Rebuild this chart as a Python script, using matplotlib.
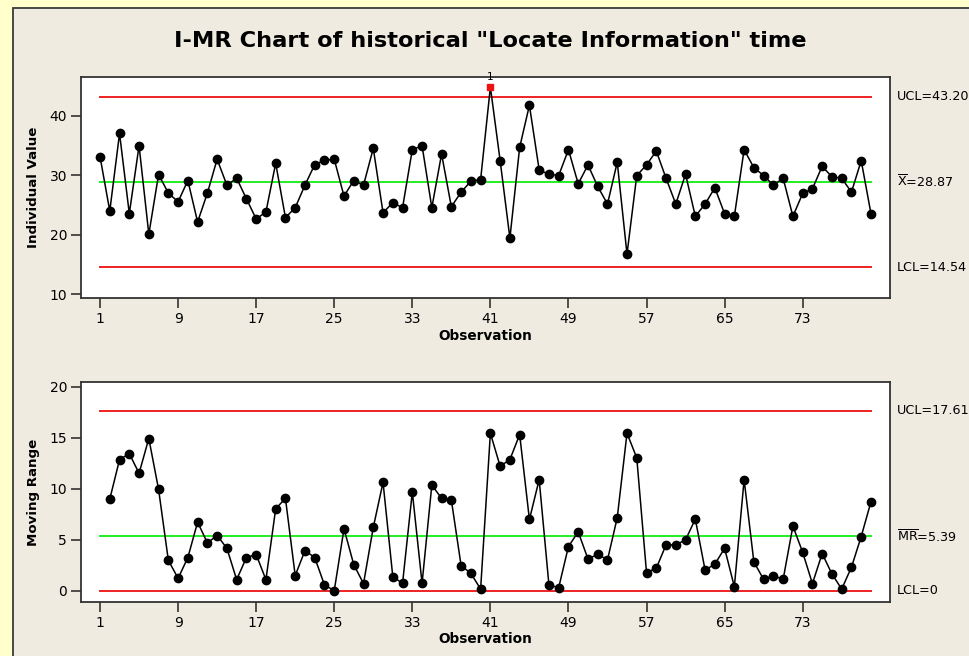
import matplotlib
matplotlib.use("Agg")
import matplotlib.pyplot as plt
from matplotlib.patches import Rectangle

# ---- data ----
individual_values = [
    33.12, 23.99, 37.02, 23.55, 34.96, 20.09, 30.12, 27.00, 25.55, 29.11,
    22.15, 27.00, 32.68, 28.33, 29.50, 26.05, 22.65, 23.82, 32.01, 22.88,
    24.55, 28.33, 31.79, 32.51, 32.68, 26.50, 29.11, 28.33, 34.51, 23.71,
    25.38, 24.55, 34.29, 34.96, 24.55, 33.57, 24.71, 27.16, 29.00, 29.28,
    44.81, 32.45, 19.43, 34.68, 41.75, 30.89, 30.17, 29.95, 34.29, 28.56,
    31.73, 28.11, 25.16, 32.18, 16.75, 29.95, 31.73, 34.07, 29.50, 25.16,
    30.17, 23.10, 25.16, 27.89, 23.55, 23.10, 34.29, 31.28, 29.95, 28.33,
    29.50, 23.10, 26.94, 27.72, 31.51, 29.73, 29.50, 27.16, 32.45, 23.55,
]
moving_ranges = [
    8.98, 12.85, 13.44, 11.51, 14.92, 9.93, 2.98, 1.21, 3.25, 6.72,
    4.69, 5.41, 4.16, 1.08, 3.25, 3.54, 1.08, 8.03, 9.05, 1.48,
    3.93, 3.25, 0.56, 0.00, 6.07, 2.56, 0.69, 6.20, 10.62, 1.38,
    0.72, 9.67, 0.72, 10.36, 9.05, 8.89, 2.46, 1.70, 0.16, 15.44,
    12.20, 12.85, 15.31, 6.98, 10.89, 0.56, 0.30, 4.33, 5.77, 3.11,
    3.57, 3.02, 7.15, 15.44, 13.02, 1.77, 2.20, 4.49, 4.49, 4.98,
    7.02, 2.03, 2.59, 4.16, 0.39, 10.89, 2.82, 1.11, 1.48, 1.11,
    6.33, 3.77, 0.69, 3.64, 1.64, 0.16, 2.30, 5.31, 8.72,
]
i_ucl, i_center, i_lcl = 43.20, 28.87, 14.54
mr_ucl, mr_center, mr_lcl = 17.61, 5.39, 0.0
flagged_obs = [41]
x_ticks = [1, 9, 17, 25, 33, 41, 49, 57, 65, 73]
i_yticks = [10, 20, 30, 40]
mr_yticks = [0, 5, 10, 15, 20]
title = 'I-MR Chart of historical "Locate Information" time'

plt.rcParams['font.family'] = ['DejaVu Sans']
plt.rcParams['mathtext.fontset'] = 'dejavusans'

W, H = 970, 656
fig = plt.figure(figsize=(W / 100, H / 100), dpi=100)
fig.patch.set_facecolor('#FFFFCC')

# beige panel
panel = Rectangle((13 / W, -0.01), 1.0, 1 - 8 / H + 0.01, transform=fig.transFigure,
                  facecolor='#EFEBE1', edgecolor='#3a3a3a', linewidth=1.3, zorder=-10)
fig.patches.append(panel)

def fy(y):
    return 1 - y / H

ax1 = fig.add_axes([81 / W, fy(298.3), (890 - 81) / W, (298.3 - 76.7) / H])
ax2 = fig.add_axes([81 / W, fy(601.7), (890 - 81) / W, (601.7 - 382.3) / H])

obs = list(range(1, len(individual_values) + 1))
mr_obs = list(range(2, len(individual_values) + 1))

RED = '#EE2222'
GREEN = '#22EE22'

def style(ax):
    ax.set_facecolor('white')
    for s in ax.spines.values():
        s.set_color('#333333')
        s.set_linewidth(1.3)
    ax.tick_params(direction='out', length=7, width=1.2, color='#333333',
                   labelsize=10, pad=3)
    ax.set_xticks(x_ticks)
    ax.set_xlim(-0.95, 81.95)
    ax.set_xlabel('Observation', fontsize=9.8, fontweight='bold', labelpad=2)

# Individual chart
style(ax1)
ax1.plot([1, 80], [i_ucl, i_ucl], color=RED, lw=1.4, zorder=1)
ax1.plot([1, 80], [i_lcl, i_lcl], color=RED, lw=1.4, zorder=1)
ax1.plot([1, 80], [i_center, i_center], color=GREEN, lw=1.4, zorder=1)
ax1.plot(obs, individual_values, color='black', lw=1.1, zorder=2)
normal = [i for i in range(len(obs)) if obs[i] not in flagged_obs]
ax1.plot([obs[i] for i in normal], [individual_values[i] for i in normal], 'o',
         color='black', ms=6, zorder=3)
for f in flagged_obs:
    ax1.plot([f], [individual_values[f - 1]], 's', color='#EE1111', ms=5, zorder=4)
    ax1.annotate('1', (f, individual_values[f - 1]), xytext=(0, 4),
                 textcoords='offset points', ha='center', va='bottom', fontsize=7.5,
                 annotation_clip=False)
ax1.set_ylim(9.33, 46.55)
ax1.set_yticks(i_yticks)
ax1.set_ylabel('Individual Value', fontsize=9.6, fontweight='bold', labelpad=7)

# Moving range chart
style(ax2)
ax2.plot([1, 80], [mr_ucl, mr_ucl], color=RED, lw=1.4, zorder=1)
ax2.plot([1, 80], [mr_lcl, mr_lcl], color=RED, lw=1.4, zorder=1)
ax2.plot([1, 80], [mr_center, mr_center], color=GREEN, lw=1.4, zorder=1)
ax2.plot(mr_obs, moving_ranges, color='black', lw=1.1, zorder=2)
ax2.plot(mr_obs, moving_ranges, 'o', color='black', ms=6, zorder=3)
ax2.set_ylim(-1.08, 20.43)
ax2.set_yticks(mr_yticks)
ax2.set_ylabel('Moving Range', fontsize=9.6, fontweight='bold', labelpad=7)

# right-side labels
tx = 897 / W
fs = 9.2
fig.text(tx, fy(96), 'UCL=43.20', fontsize=fs, va='center', ha='left')
fig.text(tx, fy(182), r'$\overline{\mathrm{X}}$=28.87', fontsize=fs, va='center', ha='left')
fig.text(tx, fy(268), 'LCL=14.54', fontsize=fs, va='center', ha='left')
fig.text(tx, fy(411), 'UCL=17.61', fontsize=fs, va='center', ha='left')
fig.text(tx, fy(537), r'$\overline{\mathrm{MR}}$=5.39', fontsize=fs, va='center', ha='left')
fig.text(tx, fy(591), 'LCL=0', fontsize=fs, va='center', ha='left')

fig.text(490 / W, fy(41), title, fontsize=16.2, fontweight='bold', ha='center', va='center')

fig.savefig('out.png', dpi=100, facecolor=fig.get_facecolor())
